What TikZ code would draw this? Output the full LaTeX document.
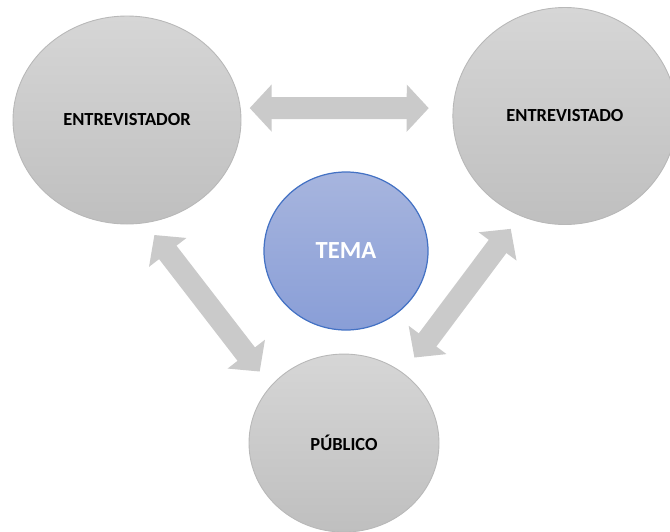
\documentclass[tikz,border=0pt]{standalone}
\usepackage{fontspec}
\setmainfont{Carlito}
\usepackage{xcolor}
\usepackage{tikz}
\usetikzlibrary{positioning,arrows.meta,shapes.geometric}

\definecolor{bubbletop}{RGB}{214,214,214}
\definecolor{bubblebot}{RGB}{191,191,191}
\definecolor{bubbleline}{RGB}{184,184,184}
\definecolor{topictop}{RGB}{167,181,222}
\definecolor{topicbot}{RGB}{137,158,215}
\definecolor{topicline}{RGB}{68,114,196}
\definecolor{arrgray}{RGB}{202,202,202}

\begin{document}
\begin{tikzpicture}[
    node distance=0.46cm and 4.22cm,
    bubble/.style={ellipse, draw=bubbleline, line width=0.5pt, top color=bubbletop,
                   bottom color=bubblebot, inner sep=0pt, align=center,
                   font=\bfseries\fontsize{10.5}{12}\selectfont},
    topic/.style={ellipse, draw=topicline, line width=0.7pt, top color=topictop,
                  bottom color=topicbot, text=white, inner sep=0pt,
                  font=\bfseries\fontsize{14}{16}\selectfont},
    arr/.style={{Triangle[length=0.44cm,width=0.92cm]}-{Triangle[length=0.44cm,width=0.92cm]},
                line width=0.44cm, draw=arrgray},
  ]
  \useasboundingbox (0,0) rectangle (13.4,-10.62);
  % The three parties
  \node[bubble, minimum width=4.56cm, minimum height=4.16cm] (entrevistador) at (2.54,-2.40) {ENTREVISTADOR};
  \node[bubble, minimum width=4.48cm, minimum height=4.34cm, right=of entrevistador,
        yshift=0.08cm] (entrevistado) {ENTREVISTADO};
  % Topic in the middle
  \node[topic, minimum width=3.28cm, minimum height=3.16cm] (tema) at (6.92,-5.02) {TEMA};
  \node[bubble, minimum width=3.80cm, minimum height=3.56cm, below=of tema,
        xshift=-0.04cm] (publico) {PÚBLICO};

  \draw[arr, shorten <=0.18cm, shorten >=0.48cm] (entrevistador.6) -- (entrevistado.176);
  \draw[arr, shorten <=0.30cm, shorten >=0.36cm] (entrevistador.-80) -- (publico.142);
  \draw[arr, shorten <=0.32cm, shorten >=0.38cm] (entrevistado.-114) -- (publico.50);
\end{tikzpicture}
\end{document}
